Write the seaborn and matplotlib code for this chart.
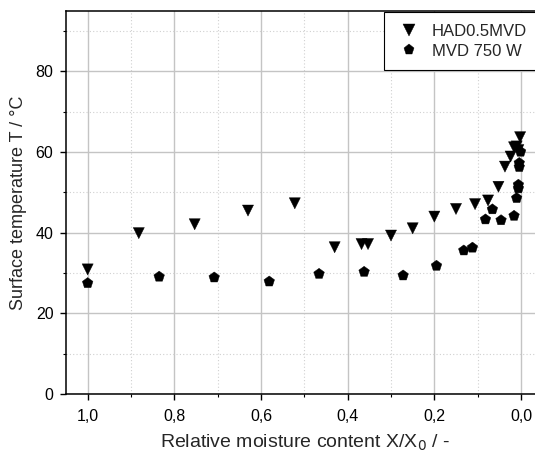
import pandas as pd
import matplotlib
matplotlib.use('Agg')
import matplotlib.pyplot as plt
from matplotlib.ticker import MultipleLocator, FuncFormatter
import seaborn as sns

sns.set_style("ticks")
plt.rcParams['font.family'] = ['Liberation Sans', 'DejaVu Sans']

# HAD0.5MVD (triangles)
had_x = [1.0, 0.882, 0.753, 0.630, 0.522, 0.430, 0.368, 0.353, 0.300, 0.250, 0.200,
         0.150, 0.106, 0.076, 0.052, 0.037, 0.024, 0.016, 0.010, 0.006, 0.002]
had_y = [30.9, 39.9, 42.1, 45.5, 47.3, 36.4, 37.2, 37.2, 39.3, 41.1, 44.0,
         45.9, 47.1, 48.0, 51.4, 56.4, 58.9, 61.2, 61.4, 60.5, 63.7]

# MVD 750 W (pentagons)
mvd_x = [1.0, 0.835, 0.708, 0.581, 0.466, 0.362, 0.272, 0.195, 0.132, 0.112,
         0.082, 0.066, 0.046, 0.016, 0.010, 0.006, 0.006, 0.004, 0.004, 0.001]
mvd_y = [27.5, 29.1, 28.9, 27.9, 29.8, 30.3, 29.4, 31.8, 35.6, 36.3,
         43.3, 45.8, 43.1, 44.2, 48.6, 51.0, 51.9, 56.3, 57.3, 60.1]

labels = ['HAD0.5MVD', 'MVD 750 W']

df = pd.concat([
    pd.DataFrame({'x': had_x, 'y': had_y, 'series': labels[0]}),
    pd.DataFrame({'x': mvd_x, 'y': mvd_y, 'series': labels[1]}),
])

fig = plt.figure(figsize=(5.35, 4.55), dpi=100)
ax = fig.add_axes([66 / 535, 1 - 394 / 455, (545 - 66) / 535, (394 - 11) / 455])

ax.xaxis.set_minor_locator(MultipleLocator(0.1))
ax.yaxis.set_minor_locator(MultipleLocator(10))
ax.grid(True, which='major', color='#c4c4c4', linewidth=1.0, linestyle='-')
ax.grid(True, which='minor', color='#d0d0d0', linewidth=0.8, linestyle=(0, (1, 2)))
ax.set_axisbelow(True)

sns.scatterplot(data=df, x='x', y='y', style='series', markers={labels[0]: 'v', labels[1]: 'p'},
                color='black', s=64, edgecolor='black', linewidth=0.3, ax=ax, zorder=3)

ax.set_xlim(1.050, -0.0554)
ax.set_ylim(0, 95)
ax.set_xticks([1.0, 0.8, 0.6, 0.4, 0.2, 0.0])
ax.set_yticks([0, 20, 40, 60, 80])
ax.xaxis.set_major_formatter(FuncFormatter(lambda v, p: f"{v:.1f}".replace('.', ',').replace('-', '')))

for s in ax.spines.values():
    s.set_color('black')
    s.set_linewidth(1.1)
ax.tick_params(which='major', direction='out', length=4, width=1, colors='black', labelsize=11.5)
ax.tick_params(axis='x', which='major', pad=7)
ax.tick_params(axis='y', which='major', pad=5)
ax.tick_params(which='minor', direction='out', length=2.5, width=0.8, colors='black')

ax.set_xlabel('Relative moisture content X/X$_0$ / -', fontsize=14, labelpad=6)
ax.set_ylabel('Surface temperature T / °C', fontsize=13, labelpad=6)

leg = ax.legend(loc='upper left', bbox_to_anchor=(384 / 535, 1 - 12 / 455),
                bbox_transform=fig.transFigure, frameon=True, fontsize=12,
                borderaxespad=0, handlelength=1.6, handletextpad=0.55, borderpad=0.7,
                labelspacing=0.3, fancybox=False, markerscale=1.0)
leg.get_frame().set_edgecolor('black')
leg.get_frame().set_linewidth(0.8)
leg.get_frame().set_alpha(1)

fig.savefig('out.png', dpi=100)
